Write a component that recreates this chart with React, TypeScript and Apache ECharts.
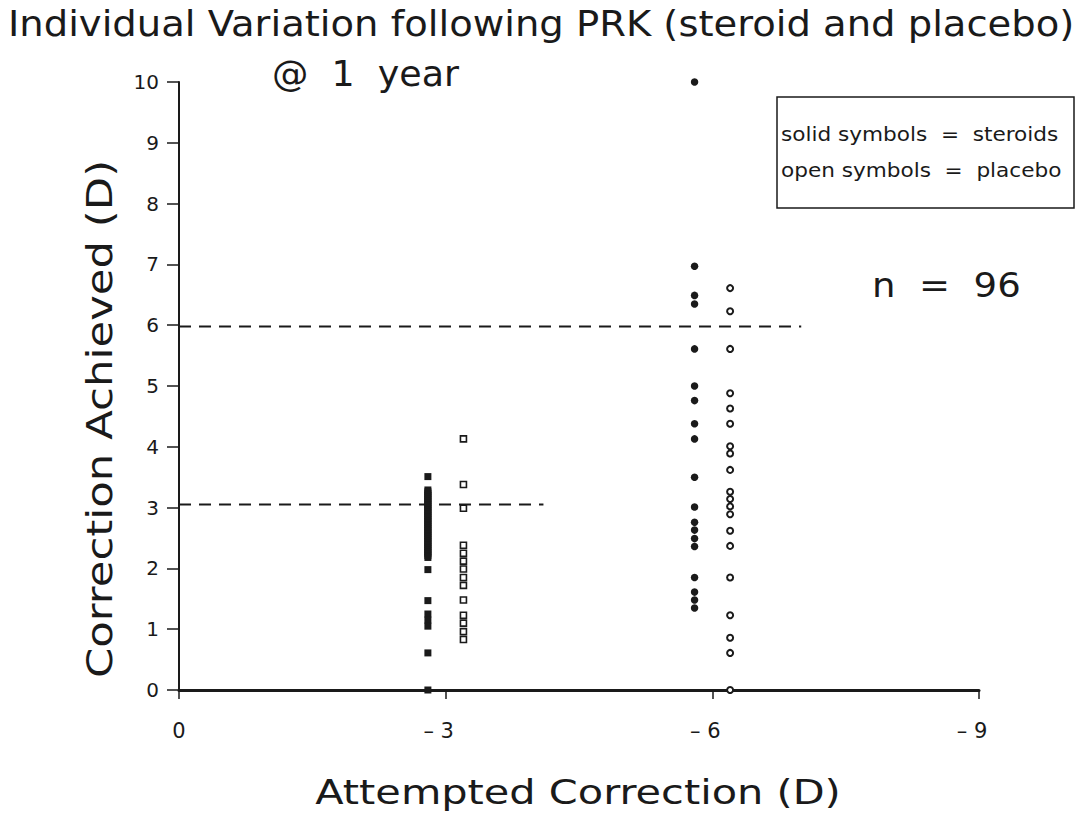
import React, { useEffect, useRef } from "react";
import * as echarts from "echarts";

// Attempted correction positions (D), plotted left to right 0 .. -9
const steroidLowX = -2.8;
const placeboLowX = -3.2;
const steroidHighX = -5.8;
const placeboHighX = -6.2;

// Correction achieved (D)
const steroidLow = [
  3.51, 3.29, 3.26, 3.23, 3.2, 3.17, 3.14, 3.11, 3.08, 3.05, 3.02, 2.99, 2.96, 2.93, 2.9,
  2.87, 2.84, 2.81, 2.78, 2.75, 2.72, 2.69, 2.66, 2.63, 2.6, 2.57, 2.54, 2.51, 2.48, 2.45,
  2.42, 2.39, 2.36, 2.33, 2.3, 2.27, 2.24, 2.21, 2.18, 1.98, 1.47, 1.25, 1.15, 1.05, 0.61, 0,
];
const placeboLow = [4.13, 3.38, 2.99, 2.38, 2.25, 2.12, 1.99, 1.85, 1.72, 1.48, 1.23, 1.1, 0.96, 0.83];
const steroidHigh = [
  10.0, 6.97, 6.49, 6.35, 5.61, 5.0, 4.76, 4.38, 4.13, 3.5, 3.01, 2.76, 2.63, 2.49, 2.36, 1.85, 1.61, 1.48, 1.35,
];
const placeboHigh = [
  6.61, 6.23, 5.61, 4.88, 4.63, 4.38, 4.01, 3.89, 3.62, 3.26, 3.14, 3.02, 2.89, 2.62, 2.37, 1.85, 1.23, 0.86, 0.61, 0,
];

// Reference (dashed) lines: [attempted end, level]
const refLow = [[0, 3.05], [-4.1, 3.05]];
const refHigh = [[0, 5.98], [-7.0, 5.98]];

const titleText = "Individual Variation following PRK (steroid and placebo)";
const subTitleText = "@  1  year";
const nText = "n  =  96";
const legendLines = ["solid symbols  =  steroids", "open symbols  =  placebo"];
const xName = "Attempted Correction (D)";
const yName = "Correction Achieved (D)";

const FONT = "DejaVu Sans";
const INK = "#1a1a1a";

export default function App() {
  const ref = useRef<HTMLDivElement>(null);
  useEffect(() => {
    if (!ref.current) return;
    const chart = echarts.init(ref.current, null, { renderer: "svg" });
    const pts = (x: number, ys: number[]) => ys.map((y) => [x, y]);
    const txt = (
      text: string,
      x: number,
      y: number,
      size: number,
      scaleX: number,
      align: string,
      extra: any = {}
    ) => ({
      type: "text",
      x,
      y,
      scaleX,
      style: { text, font: `${size}px "${FONT}"`, fill: INK, align, verticalAlign: "middle" },
      z: 11,
      ...extra,
    });
    chart.setOption({
      animation: false,
      backgroundColor: "#fff",
      textStyle: { fontFamily: FONT, color: INK },
      grid: { left: 179, right: 98, top: 82, bottom: 124 },
      xAxis: {
        type: "value",
        min: -9,
        max: 0,
        interval: 3,
        inverse: true,
        axisLine: { show: true, onZero: false, lineStyle: { color: INK, width: 3 } },
        axisTick: { show: true, length: 9, lineStyle: { color: INK, width: 1.5 } },
        axisLabel: {
          margin: 30,
          fontSize: 21,
          fontFamily: FONT,
          color: INK,
          formatter: (v: number) => (v === 0 ? "0" : `{a|– ${Math.abs(v)}}{s| }`),
          rich: {
            a: { fontSize: 21, fontFamily: FONT, color: INK },
            s: { fontSize: 21, width: 14 },
          },
        },
        splitLine: { show: false },
      },
      yAxis: {
        type: "value",
        min: 0,
        max: 10,
        interval: 1,
        axisLine: { show: true, lineStyle: { color: INK, width: 2 } },
        axisTick: { show: true, length: 12, lineStyle: { color: INK, width: 1.5 } },
        axisLabel: { margin: 20, fontSize: 20, fontFamily: FONT, color: INK },
        splitLine: { show: false },
      },
      series: [
        {
          type: "line",
          data: refLow,
          showSymbol: false,
          symbol: "none",
          lineStyle: { color: INK, width: 2, type: [12, 8] },
          silent: true,
          z: 1,
        },
        {
          type: "line",
          data: refHigh,
          showSymbol: false,
          symbol: "none",
          lineStyle: { color: INK, width: 2, type: [12, 8] },
          silent: true,
          z: 1,
        },
        {
          type: "scatter",
          data: pts(steroidLowX, steroidLow),
          symbol: "rect",
          symbolSize: 7,
          itemStyle: { color: INK, opacity: 1 },
          z: 3,
        },
        {
          type: "scatter",
          data: pts(placeboLowX, placeboLow),
          symbol: "rect",
          symbolSize: 6,
          itemStyle: { color: "#fff", borderColor: INK, borderWidth: 1.6, opacity: 1 },
          z: 3,
        },
        {
          type: "scatter",
          data: pts(steroidHighX, steroidHigh),
          symbol: "circle",
          symbolSize: 7.5,
          itemStyle: { color: INK, opacity: 1 },
          z: 3,
        },
        {
          type: "scatter",
          data: pts(placeboHighX, placeboHigh),
          symbol: "circle",
          symbolSize: 6,
          itemStyle: { color: "#fff", borderColor: INK, borderWidth: 2, opacity: 1 },
          z: 3,
        },
      ],
      graphic: [
        txt(titleText, 8, 24, 35, 1.1, "left"),
        txt(subTitleText, 272, 74, 35, 1.04, "left"),
        txt(nText, 872, 285, 34, 1.09, "left"),
        {
          type: "rect",
          shape: { x: 777, y: 97, width: 297, height: 111 },
          style: { fill: "#fff", stroke: INK, lineWidth: 1.5 },
          z: 10,
        },
        txt(legendLines[0], 781, 134, 20, 1.08, "left"),
        txt(legendLines[1], 781, 170, 20, 1.08, "left"),
        txt(xName, 578, 792, 34, 1.22, "center"),
        txt(yName, 100, 419, 35, 1.24, "center", { rotation: Math.PI / 2 }),
      ],
    });
    return () => chart.dispose();
  }, []);
  return <div ref={ref} style={{ width: 1077, height: 814, position: "absolute", left: 0, top: 0 }} />;
}
